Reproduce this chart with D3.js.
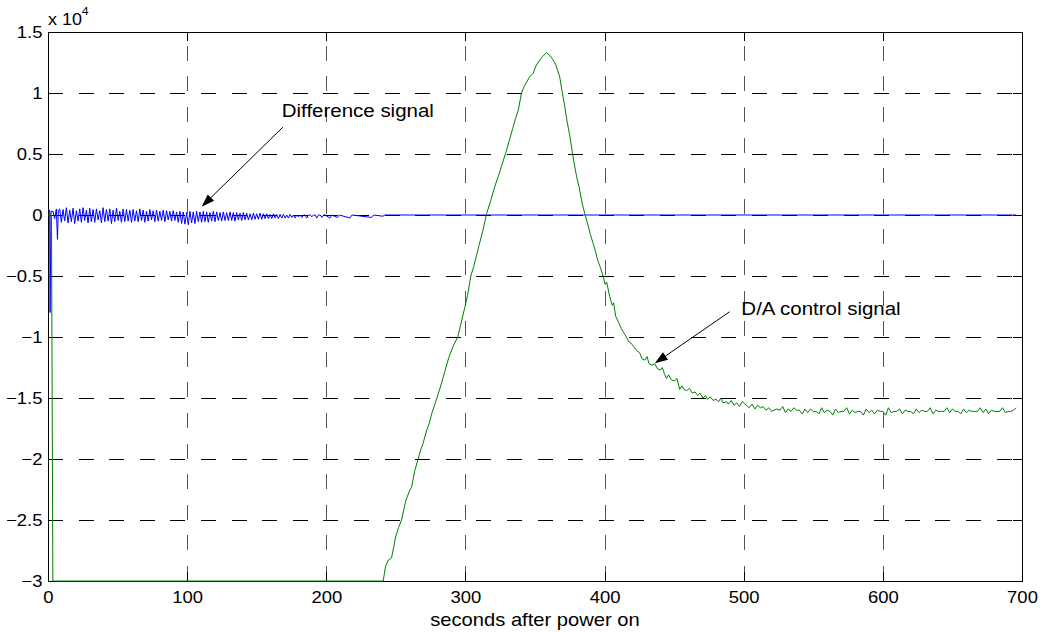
<!DOCTYPE html>
<meta charset="utf-8">
<style>

body {
  margin: 0;
  background: #fff;
}

svg text {
  font-family: "Liberation Sans", Arial, sans-serif;
  fill: #000;
}

.tick-label {
  font-size: 16.5px;
}

.axis-title {
  font-size: 18px;
}

.grid-h {
  stroke: #000;
  stroke-width: 1;
  stroke-dasharray: 15, 15.6;
  shape-rendering: crispEdges;
}

.grid-v {
  stroke: #555;
  stroke-width: 1;
  stroke-dasharray: 15, 15.6;
  shape-rendering: crispEdges;
}

.box {
  fill: none;
  stroke: #000;
  stroke-width: 1;
  shape-rendering: crispEdges;
}

.diff {
  fill: none;
  stroke: #0000ff;
  stroke-width: 1;
}

.ctrl {
  fill: none;
  stroke: #008000;
  stroke-width: 1;
}

.note {
  font-size: 18.3px;
}

.expo {
  font-size: 16px;
}

.expo-sup {
  font-size: 11px;
}

</style>

<svg id="chart" width="1043" height="632"></svg>

<script src="https://d3js.org/d3.v7.min.js"></script>

<script>

// axis ticks
var xTicks = [0, 100, 200, 300, 400, 500, 600, 700];
var yTicks = [-30000, -25000, -20000, -15000, -10000, -5000, 0, 5000, 10000, 15000];

// difference signal (blue): first few samples, then a regular 1.2 s grid, then the quiet tail
var diffHead = [[0, 400], [1.2, 400], [1.5, -8000], [2.2, 300], [3.6, 300], [4.8, -300], [6.0, 500], [6.8, -2000], [7.4, 400]];
var diffStart = 8.4, diffStep = 1.2;
var diffValues = [
  500, -600, 450, -500, 600, -650, 400, -550, 550, -700, 350, -500, 500, -600, 600, -450, 400, -650, 550, -550,
  450, -600, 500, -400, 350, -650, 600, -550, 450, -500, 500, -700, 400, -550, 550, -450, 300, -600, 500, -550,
  450, -500, 400,
  -600, 450, -500, 350, -550, 500, -450, 400, -600, 300, -500, 450, -400, 350, -550, 400, -500, 300, -450, 400,
  -550, 350, -400, 300, -500, 350, -450, 250, -600, 300, -700, 250, -750,
  200, -800, 300, -650, 250, -700, 300, -550, 250, -600, 300, -550, 250, -600, 200, -500, 300, -550, 250, -450,
  200, -500, 250, -450, 200, -450,
  250, -450, 200, -500, 200, -400, 150, -450, 200, -400, 150, -400, 100, -400, 150, -350, 100, -350, 150, -350,
  100, -300, 100, -300, 50,
  -300, 100, -250, 50, -300, 50, -250, 50, -250, 0, -250, 50, -200, 0, -250, 0, -150, 0, -200, 0,
  0, -250, 0, 0, -150, 0, 0, -250, 0, 0, -200, 0, 0
];
var diffTail = [[202.6, -250], [204, 0], [208, -200], [209.5, 0], [217, -250], [218.5, 0], [232.5, -200], [234, 0], [240.7, -100], [242, 0], [695.7, 0]];

// D/A control signal (green), [seconds, value]
var ctrlPoints = [
  [0, 0], [2.5, 0], [3.5, -30000], [240.9, -30000],
  [242.6, -28800], [244.5, -28300], [246.9, -28100], [248.5, -27200], [249.8, -26400], [252, -25600], [254.1, -25000],
  [256, -24000], [257.2, -23400], [259.5, -22700], [261.3, -22300], [263.5, -21000], [266, -20000], [268, -19200],
  [269.6, -18700], [272, -17700], [273.9, -17100], [276, -16200], [279.5, -15000], [282, -14100], [285, -12900],
  [288, -11700], [291, -10800], [294.5, -10000], [297, -8800], [299.5, -7600], [301.5, -6600], [303.9, -5000],
  [306, -4200], [308, -3300], [310, -2400], [312.5, -1300], [315.2, 100], [318, 1100], [321, 2300], [324, 3300],
  [326.5, 4200], [329, 5100], [331.5, 6100], [334, 7100], [336, 7900], [338, 8600], [340.3, 10000], [342, 10500],
  [344, 10900], [346, 11300], [348.6, 11600], [351, 12300], [353.4, 12700], [355.5, 13000], [358.3, 13300],
  [360.5, 13100], [362.5, 12800], [365, 12300], [367.8, 11300], [369.5, 10100], [371.4, 8900], [373, 7700],
  [375, 6500], [376.9, 5100], [378.5, 4000], [380, 3100], [381.7, 2300], [383.8, 1000], [385.8, 100], [388, -800],
  [389.8, -1600], [391.7, -2300], [393.5, -3000], [395, -3700], [397, -4300], [398.9, -5000], [400.5, -5700],
  [401.5, -5500], [403.7, -6700], [405.5, -7400], [406.5, -7200], [408, -8300], [410, -8800], [412, -9300],
  [413.5, -9600], [415.7, -10000], [417.5, -10400], [419, -10500], [421, -10800], [423, -11100], [425.3, -11300],
  [427, -11800], [429, -11900], [430.5, -11600], [432, -12200], [434, -12300], [436.1, -12200], [438, -12600],
  [440, -12700], [441.5, -12500], [443, -13000], [444.5, -13400], [446, -13100], [448, -13500], [450, -13600],
  [452, -13400], [454, -14300], [455.5, -14000], [457, -14300], [459, -14400], [461, -14200], [463, -14600],
  [465, -14500], [467, -14800], [468.5, -14600], [470.8, -15000], [472.5, -14800], [474, -15100], [476, -14900],
  [478, -15200], [480, -15100], [482, -15300], [483.5, -15000], [485, -15400], [487.6, -15300], [489, -15500],
  [491, -15200], [493, -15600], [495, -15400], [497, -15700], [499, -15300], [501.9, -15600], [504, -15800],
  [506, -15500], [508, -15900], [510, -15600], [512, -15800], [514, -15700], [516, -16000], [518, -15800],
  [520, -16100], [523.5, -15900], [526, -16000], [528, -15700], [530, -16200], [532, -15900], [534, -16100],
  [536, -15800], [538, -16000], [540, -16000], [542, -16300], [544, -15900], [546, -16200], [548, -15900],
  [550, -16100], [552, -16100], [554, -16300], [556, -15800], [558, -16200], [560, -16000], [562, -16100],
  [564, -16400], [566, -15900], [568, -16200], [570, -16100], [572, -16100], [574, -15800], [576, -16300],
  [578, -16000], [580, -16200], [582, -16100], [584, -16100], [586, -16400], [588, -15900], [590, -16200],
  [592, -16000], [594, -16300], [596, -16000], [598, -16100], [600, -16100], [602, -16400], [604, -15800],
  [606, -16200], [608, -16100], [610, -16100], [612, -15900], [614, -16300], [616, -16000], [618, -16100],
  [620, -16100], [622, -16300], [624, -15900], [626, -16200], [628, -16000], [630, -16100], [632, -16100],
  [634, -15800], [636, -16300], [638, -16000], [640, -16100], [642, -16100], [644, -16100], [646, -15800],
  [648, -16200], [650, -15900], [652, -16100], [654, -16100], [656, -16300], [658, -15900], [660, -16200],
  [662, -16000], [664, -16100], [666, -16100], [668, -16100], [670, -15800], [672, -16200], [674, -15900],
  [676, -16300], [678, -16000], [680, -16100], [682, -16100], [684, -16100], [686, -15800], [688, -16200],
  [690, -16100], [692, -16100], [694, -16000], [695.7, -15800]
];

// annotations: text anchor and arrow (from -> to) in data units
var notes = [
  {text: "Difference signal", tx: 168, ty: 8000, x1: 168.8, y1: 7200, x2: 110.4, y2: 680},
  {text: "D/A control signal", tx: 498.3, ty: -8220, x1: 489.9, y1: -7930, x2: 436.1, y2: -12160}
];

var stretch = 1.12;   // text in the original is a little wider than Arial

var svg = d3.select("#chart");

var x = d3.scaleLinear().domain([0, 700]).range([48, 1022]);
var y = d3.scaleLinear().domain([-30000, 15000]).range([581, 32]);

// clip region for the lines
svg.append("defs").append("clipPath")
    .attr("id", "plot-clip")
  .append("rect")
    .attr("x", x(0) - 1)
    .attr("y", y(15000) - 1)
    .attr("width", x(700) - x(0) + 2)
    .attr("height", y(-30000) - y(15000) + 2);

// grid
svg.append("g").selectAll("line")
    .data(yTicks.slice(1, -1))
    .enter().append("line")
    .attr("class", "grid-h")
    .attr("x1", x(0)).attr("x2", x(700))
    .attr("y1", function(d) { return Math.round(y(d)) + 0.5; })
    .attr("y2", function(d) { return Math.round(y(d)) + 0.5; });

svg.append("g").selectAll("line")
    .data(xTicks.slice(1, -1))
    .enter().append("line")
    .attr("class", "grid-v")
    .attr("x1", function(d) { return Math.round(x(d)) + 0.5; })
    .attr("x2", function(d) { return Math.round(x(d)) + 0.5; })
    .attr("y1", y(-30000)).attr("y2", y(15000));

// axes (inward ticks, labels on left/bottom only)
var fmtY = function(d) { return d3.format("~g")(d / 10000); };

var gx = svg.append("g")
    .attr("transform", "translate(0," + y(-30000) + ")")
    .call(d3.axisBottom(x).tickValues(xTicks).tickSizeInner(-9).tickSizeOuter(0).tickPadding(10));
var gy = svg.append("g")
    .attr("transform", "translate(" + x(0) + ",0)")
    .call(d3.axisLeft(y).tickValues(yTicks).tickFormat(fmtY).tickSizeInner(-9).tickSizeOuter(0).tickPadding(5));
var gx2 = svg.append("g")
    .attr("transform", "translate(0," + y(15000) + ")")
    .call(d3.axisTop(x).tickValues(xTicks).tickFormat("").tickSizeInner(-9).tickSizeOuter(0));
var gy2 = svg.append("g")
    .attr("transform", "translate(" + x(700) + ",0)")
    .call(d3.axisRight(y).tickValues(yTicks).tickFormat("").tickSizeInner(-9).tickSizeOuter(0));

[gx, gy, gx2, gy2].forEach(function(g) {
  g.select(".domain").remove();
  g.selectAll(".tick line").attr("stroke", "#000").attr("shape-rendering", "crispEdges");
  g.selectAll(".tick text")
      .attr("class", "tick-label")
      .attr("font-family", null)
      .attr("font-size", null)
      .attr("transform", "scale(" + stretch + ",1)");
});
gy.selectAll(".tick text").attr("dy", "0.36em");

svg.append("rect")
    .attr("class", "box")
    .attr("x", x(0) + 0.5)
    .attr("y", y(15000) + 0.5)
    .attr("width", x(700) - x(0))
    .attr("height", y(-30000) - y(15000));

// exponent label
var expo = svg.append("text")
    .attr("class", "expo")
    .attr("transform", "translate(" + x(0) + "," + (y(15000) - 7) + ") scale(" + stretch + ",1)");
expo.append("tspan").text("x 10");
expo.append("tspan").attr("class", "expo-sup").attr("dy", -10).text("4");

// lines
var diffPoints = diffHead
    .concat(diffValues.map(function(v, i) { return [diffStart + i * diffStep, v]; }))
    .concat(diffTail);

var line = d3.line()
    .x(function(d) { return x(d[0]); })
    .y(function(d) { return y(d[1]); });

var plot = svg.append("g").attr("clip-path", "url(#plot-clip)");

plot.append("path")
    .datum(diffPoints)
    .attr("class", "diff")
    .attr("d", line);

plot.append("path")
    .datum(ctrlPoints)
    .attr("class", "ctrl")
    .attr("d", line);

// annotations
notes.forEach(function(n) {
  svg.append("text")
      .attr("class", "note")
      .attr("transform", "translate(" + x(n.tx) + "," + y(n.ty) + ") scale(" + stretch + ",1)")
      .text(n.text);

  var ax1 = x(n.x1), ay1 = y(n.y1), ax2 = x(n.x2), ay2 = y(n.y2);
  var ang = Math.atan2(ay2 - ay1, ax2 - ax1);
  var len = 13, half = 4.5;
  var bx = ax2 - len * Math.cos(ang), by = ay2 - len * Math.sin(ang);

  svg.append("line")
      .attr("x1", ax1).attr("y1", ay1)
      .attr("x2", bx).attr("y2", by)
      .attr("stroke", "#000")
      .attr("stroke-width", 1);

  svg.append("path")
      .attr("d", "M" + ax2 + "," + ay2 +
                 "L" + (bx + half * Math.sin(ang)) + "," + (by - half * Math.cos(ang)) +
                 "L" + (bx - half * Math.sin(ang)) + "," + (by + half * Math.cos(ang)) + "Z")
      .attr("fill", "#000");
});

// x label
svg.append("text")
    .attr("class", "axis-title")
    .attr("transform", "translate(" + (x(0) + x(700)) / 2 + ",626) scale(" + stretch + ",1)")
    .attr("text-anchor", "middle")
    .text("seconds after power on");

</script>
